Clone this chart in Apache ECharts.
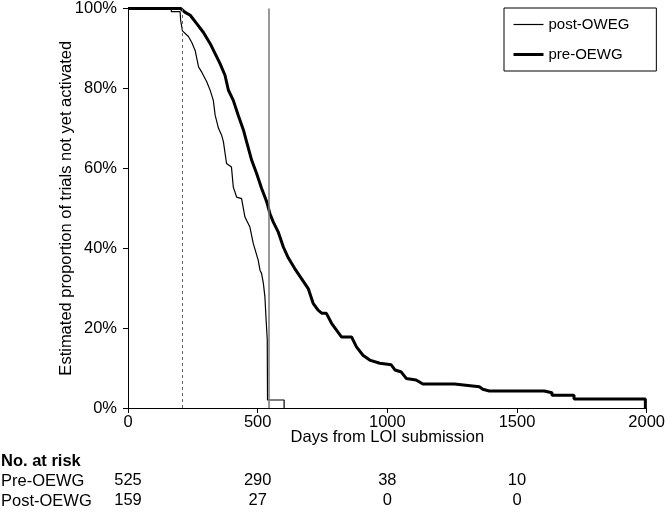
<!DOCTYPE html>
<html>
<head>
<meta charset="utf-8">
<script src="https://cdn.jsdelivr.net/npm/echarts@6/dist/echarts.min.js"></script>
<style>
  html, body { margin: 0; padding: 0; background: #fff; }
  #chart { width: 668px; height: 511px; }
</style>
</head>
<body>
<div id="chart"></div>
<script>
// Kaplan-Meier curves, values (days, % not yet activated)
const preDays = [0, 203, 219, 240, 265, 291, 317, 336, 355, 374, 387, 406, 425, 445, 458, 477, 496, 515, 535, 547, 560, 579, 599, 618, 643, 669, 695, 714, 733, 748, 765, 785, 804, 823, 862, 881, 906, 932, 971, 1015, 1030, 1054, 1073, 1111, 1137, 1259, 1262, 1355, 1368, 1393, 1605, 1605, 1635, 1635, 1720, 1720, 1995, 1995];
const preSurv = [100, 100, 99.1, 98.3, 96.2, 94.0, 91.2, 88.7, 86.2, 83.3, 79.6, 77.0, 73.3, 69.6, 66.5, 62.0, 58.7, 55.0, 51.6, 48.7, 46.6, 44.1, 40.3, 37.6, 34.9, 32.4, 29.9, 26.2, 24.5, 23.7, 23.7, 21.2, 19.5, 17.8, 17.8, 15.3, 13.2, 12.0, 11.2, 10.8, 9.5, 9.0, 7.4, 7.0, 6.0, 6.0, 5.5, 5.3, 4.7, 4.25, 4.25, 3.8, 3.8, 3.2, 3.2, 2.25, 2.25, 0];

const postDays = [0, 167, 167, 201, 203, 210, 233, 246, 259, 272, 285, 304, 317, 329, 336, 349, 361, 368, 380, 399, 406, 419, 438, 451, 470, 483, 502, 509, 515, 522, 528, 532, 537, 538, 602, 602];
const postSurv = [100, 100, 99.2, 99.2, 97.0, 94.4, 93.0, 91.5, 89.5, 85.4, 84.0, 81.6, 79.5, 77.0, 73.3, 70.0, 68.3, 66.6, 61.2, 60.3, 55.3, 52.8, 52.4, 47.8, 45.3, 41.2, 37.0, 34.5, 33.7, 31.2, 27.8, 22.8, 17.0, 2.0, 2.0, 0];

// reference lines (days)
const dashedDay = 209;
const solidDay = 542;

const xTicks = [0, 500, 1000, 1500, 2000];
const riskPre = [525, 290, 38, 10];
const riskPost = [159, 27, 0, 0];

const FONT = '"Liberation Sans", Arial, sans-serif';
const FS = 16.5;
const THIN = 1.2;
const THICK = 3;

const zip = (xs, ys) => xs.map((x, i) => [x, ys[i]]);

const chart = echarts.init(document.getElementById('chart'));

// no-at-risk rows drawn as extra label-only x axes so numbers sit under the ticks
const riskAxis = (counts, offset) => ({
  type: 'value',
  min: 0,
  max: 2000,
  interval: 500,
  position: 'bottom',
  offset: offset,
  axisLine: { show: false },
  axisTick: { show: false },
  splitLine: { show: false },
  axisLabel: {
    color: '#000',
    fontSize: FS,
    fontFamily: FONT,
    margin: 7,
    formatter: v => {
      const i = xTicks.indexOf(v);
      return i >= 0 && i < counts.length ? String(counts[i]) : '';
    }
  }
});

const option = {
  animation: false,
  textStyle: { fontFamily: FONT },
  grid: { left: 128, right: 21, top: 8, bottom: 103 },
  legend: {
    orient: 'vertical',
    left: 504,
    top: 8,
    padding: [9, 27, 9, 8],
    itemWidth: 30,
    itemHeight: 14,
    itemGap: 15,
    borderColor: '#000',
    borderWidth: 1,
    backgroundColor: '#fff',
    itemStyle: { opacity: 0 },
    textStyle: { color: '#000', fontSize: 15, fontFamily: FONT },
    data: [
      { name: 'post-OWEG', lineStyle: { width: THIN } },
      { name: 'pre-OEWG', lineStyle: { width: THICK } }
    ]
  },
  xAxis: [
    {
      type: 'value',
      min: 0,
      max: 2000,
      interval: 500,
      name: 'Days from LOI submission',
      nameLocation: 'middle',
      nameGap: 21,
      nameMoveOverlap: false,
      nameTextStyle: { color: '#000', fontSize: FS, fontFamily: FONT },
      axisLine: { lineStyle: { color: '#000', width: 1 } },
      axisTick: { length: 5, lineStyle: { color: '#000' } },
      axisLabel: { color: '#000', fontSize: FS, fontFamily: FONT, margin: 6, formatter: v => String(v) },
      splitLine: { show: false }
    },
    riskAxis(riskPre, 57),
    riskAxis(riskPost, 77)
  ],
  yAxis: {
    type: 'value',
    min: 0,
    max: 100,
    interval: 20,
    name: 'Estimated proportion of trials not yet activated',
    nameLocation: 'middle',
    nameGap: 53,
    nameMoveOverlap: false,
    nameTextStyle: { color: '#000', fontSize: FS, fontFamily: FONT },
    axisLine: { show: true, lineStyle: { color: '#000', width: 1 } },
    axisTick: { show: true, length: 5, lineStyle: { color: '#000' } },
    axisLabel: { color: '#000', fontSize: FS, fontFamily: FONT, margin: 11, formatter: '{value}%' },
    splitLine: { show: false }
  },
  graphic: [
    { type: 'text', left: 1, top: 453, style: { text: 'No. at risk', font: 'bold 16.5px ' + FONT, fill: '#000' } },
    { type: 'text', left: 1, top: 473, style: { text: 'Pre-OEWG', font: '16.5px ' + FONT, fill: '#000' } },
    { type: 'text', left: 1, top: 493, style: { text: 'Post-OEWG', font: '16.5px ' + FONT, fill: '#000' } }
  ],
  series: [
    {
      name: 'post-OWEG',
      type: 'line',
      symbol: 'none',
      color: '#000',
      lineStyle: { color: '#000', width: THIN },
      data: zip(postDays, postSurv),
      markLine: {
        silent: true,
        symbol: 'none',
        label: { show: false },
        data: [
          { xAxis: dashedDay, lineStyle: { color: '#666', type: [3, 3], width: 1 } },
          { xAxis: solidDay, lineStyle: { color: '#777', type: 'solid', width: 1.5 } }
        ]
      }
    },
    {
      name: 'pre-OEWG',
      type: 'line',
      symbol: 'none',
      color: '#000',
      lineStyle: { color: '#000', width: THICK },
      data: zip(preDays, preSurv)
    }
  ]
};

chart.setOption(option);
</script>
</body>
</html>
